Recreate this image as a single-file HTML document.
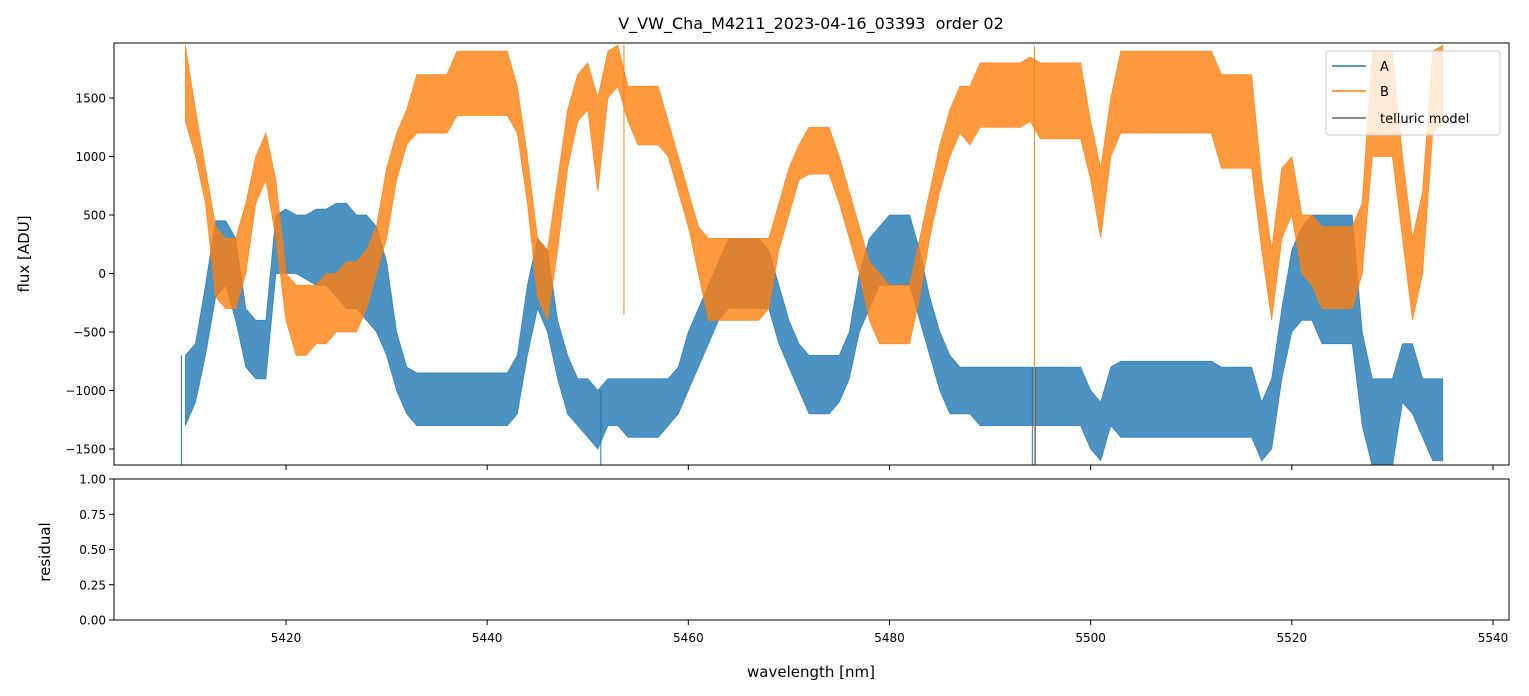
<!DOCTYPE html>
<html><head><meta charset="utf-8">
<style>
html,body{margin:0;padding:0;background:#fff;}
svg{display:block;font-family:"DejaVu Sans","Liberation Sans",sans-serif;}
</style></head>
<body>
<svg id="chart" width="1529" height="696" xmlns="http://www.w3.org/2000/svg">
<defs><clipPath id="mainclip"><rect x="114" y="43" width="1395" height="422"/></clipPath></defs>
<text x="811" y="29" font-size="16" text-anchor="middle" fill="#000" style="white-space:pre" xml:space="preserve">V_VW_Cha_M4211_2023-04-16_03393  order 02</text>
<g id="series" clip-path="url(#mainclip)"></g>
<rect x="114" y="43" width="1395" height="422" fill="none" stroke="#000" stroke-width="1"/>
<rect x="114" y="479" width="1395" height="141" fill="none" stroke="#000" stroke-width="1"/>
<g id="axes"></g>
<text transform="translate(29,254) rotate(-90)" font-size="15" text-anchor="middle">flux [ADU]</text>
<text transform="translate(50,552) rotate(-90)" font-size="15" text-anchor="middle">residual</text>
<text x="811" y="677" font-size="15" text-anchor="middle">wavelength [nm]</text>
<g>
<rect x="1326" y="51" width="174" height="84" rx="3" fill="#fff" fill-opacity="0.8" stroke="#ccc"/>
<line x1="1332" y1="66" x2="1366" y2="66" stroke="#1f77b4" stroke-width="1.5"/>
<text x="1380" y="71" font-size="13">A</text>
<line x1="1332" y1="91" x2="1366" y2="91" stroke="#ff7f0e" stroke-width="1.5"/>
<text x="1380" y="96" font-size="13">B</text>
<line x1="1332" y1="118" x2="1366" y2="118" stroke="#666" stroke-width="1.5"/>
<text x="1380" y="123" font-size="13">telluric model</text>
</g>
</svg>
<script>
const wlStart = 5410;
const aLo = [-1300,-1100,-700,-200,-100,-400,-800,-900,-900,0,
 0,0,-50,-100,-100,-200,-300,-300,-400,-500,
 -700,-1000,-1200,-1300,-1300,-1300,-1300,-1300,-1300,-1300,
 -1300,-1300,-1300,-1200,-700,-300,-500,-900,-1200,-1300,
 -1400,-1500,-1300,-1300,-1400,-1400,-1400,-1400,-1300,-1200,
 -1000,-800,-600,-400,-300,-300,-300,-300,-300,-600,
 -800,-1000,-1200,-1200,-1200,-1100,-900,-500,-300,-100,
 -100,-100,-100,-400,-700,-1000,-1200,-1200,-1200,-1300,
 -1300,-1300,-1300,-1300,-1300,-1300,-1300,-1300,-1300,-1300,
 -1500,-1600,-1300,-1400,-1400,-1400,-1400,-1400,-1400,-1400,
 -1400,-1400,-1400,-1400,-1400,-1400,-1400,-1600,-1500,-900,
 -500,-400,-400,-600,-600,-600,-600,-1300,-1650,-1650,
 -1650,-1100,-1200,-1400,-1600,-1600];
const aHi = [-700,-600,-100,450,450,300,-300,-400,-400,500,
 550,500,500,550,550,600,600,500,500,400,
 100,-500,-800,-850,-850,-850,-850,-850,-850,-850,
 -850,-850,-850,-700,-100,300,200,-400,-700,-900,
 -900,-1000,-900,-900,-900,-900,-900,-900,-900,-800,
 -500,-300,-100,100,300,300,300,300,200,-100,
 -400,-600,-700,-700,-700,-700,-500,0,300,400,
 500,500,500,200,-200,-500,-700,-800,-800,-800,
 -800,-800,-800,-800,-800,-800,-800,-800,-800,-800,
 -1000,-1100,-800,-750,-750,-750,-750,-750,-750,-750,
 -750,-750,-750,-800,-800,-800,-800,-1100,-900,-300,
 200,400,500,500,500,500,500,-500,-900,-900,
 -900,-600,-600,-900,-900,-900];
const bLo = [1300,1000,600,-200,-300,-300,0,600,800,300,
 -400,-700,-700,-600,-600,-500,-500,-500,-300,0,
 300,800,1100,1200,1200,1200,1200,1350,1350,1350,
 1350,1350,1350,1200,600,-200,-400,200,900,1300,
 1400,700,1500,1600,1300,1100,1100,1100,1000,700,
 400,0,-400,-400,-400,-400,-400,-400,-300,200,
 500,800,850,850,850,600,300,0,-400,-600,
 -600,-600,-600,-200,300,700,1000,1200,1100,1250,
 1250,1250,1250,1250,1300,1150,1150,1150,1150,1150,
 800,300,1000,1200,1200,1200,1200,1200,1200,1200,
 1200,1200,1200,900,900,900,900,200,-400,300,
 500,0,-100,-300,-300,-300,-300,0,1000,1000,
 1000,300,-400,0,1200,1300];
const bHi = [1950,1400,900,400,300,300,600,1000,1200,800,
 0,-100,-100,-100,0,0,100,100,200,400,
 900,1200,1400,1700,1700,1700,1700,1900,1900,1900,
 1900,1900,1900,1600,1000,300,200,800,1400,1700,
 1800,1500,1900,1950,1600,1600,1600,1600,1300,1000,
 700,400,300,300,300,300,300,300,300,600,
 900,1100,1250,1250,1250,1000,700,400,100,0,
 -100,-100,-100,300,700,1100,1400,1600,1600,1800,
 1800,1800,1800,1800,1850,1800,1800,1800,1800,1800,
 1300,900,1500,1900,1900,1900,1900,1900,1900,1900,
 1900,1900,1900,1700,1700,1700,1700,800,200,900,
 1000,500,500,400,400,400,400,600,1900,1900,
 1900,1000,300,700,1900,1950];
const spikeWl = [5409.6, 5451.3, 5494.2, 5494.5, 5453.6, 5494.4];
const spikeLo = [-1650, -1650, -1650, -1650, -350, -1650];
const spikeHi = [-700, -1000, -800, -800, 1950, 1950];
const spikeSeries = ["A","A","A","A","B","B"];
const xTicks = [5420,5440,5460,5480,5500,5520,5540];
const yTicks = [1500,1000,500,0,-500,-1000,-1500];
const rTicks = [0,0.25,0.5,0.75,1];
const rTickLabels = ["0.00","0.25","0.50","0.75","1.00"];

const NS = "http://www.w3.org/2000/svg";
const xS = w => 286 + (w - 5420) * (1207/120);
const yS = v => 273.5 - v * (351/3000);
const rS = v => 620 - v * 141;
const COL = {A:"#1f77b4", B:"#ff7f0e"};
const g = document.getElementById("series");
const ax = document.getElementById("axes");

function band(lo, hi, color, name) {
  let pts = [];
  for (let i = 0; i < lo.length; i++) pts.push(xS(wlStart + i).toFixed(1) + "," + yS(hi[i]).toFixed(1));
  for (let i = lo.length - 1; i >= 0; i--) pts.push(xS(wlStart + i).toFixed(1) + "," + yS(lo[i]).toFixed(1));
  const p = document.createElementNS(NS, "polygon");
  p.setAttribute("points", pts.join(" "));
  p.setAttribute("fill", color);
  p.setAttribute("fill-opacity", "0.8");
  p.setAttribute("stroke", color);
  p.setAttribute("stroke-width", "0.8");
  p.setAttribute("stroke-opacity", "0.8");
  
  
  g.appendChild(p);
}
band(aLo, aHi, COL.A, "series-a-band");
band(bLo, bHi, COL.B, "series-b-band");
for (let i = 0; i < spikeWl.length; i++) {
  const l = document.createElementNS(NS, "line");
  l.setAttribute("x1", xS(spikeWl[i])); l.setAttribute("x2", xS(spikeWl[i]));
  l.setAttribute("y1", yS(spikeLo[i])); l.setAttribute("y2", yS(spikeHi[i]));
  l.setAttribute("stroke", COL[spikeSeries[i]]); l.setAttribute("stroke-width", "1");
  
  
  g.appendChild(l);
}
function mk(tag, attrs, text) {
  const e = document.createElementNS(NS, tag);
  for (const k in attrs) e.setAttribute(k, attrs[k]);
  if (text !== undefined) e.textContent = text;
  ax.appendChild(e);
  return e;
}
xTicks.forEach(t => {
  const x = xS(t);
  const a = mk("line", {x1:x, x2:x, y1:465, y2:470, stroke:"#000"});
  
  
  const b = mk("line", {x1:x, x2:x, y1:620, y2:625, stroke:"#000"});
  
  
  const tx = mk("text", {x:x, y:642, "font-size":12, "text-anchor":"middle"}, String(t));
  
  
});
yTicks.forEach(t => {
  const y = yS(t);
  const a = mk("line", {x1:109, x2:114, y1:y, y2:y, stroke:"#000"});
  
  
  const tx = mk("text", {x:106, y:y+4.5, "font-size":12, "text-anchor":"end"}, String(t).replace("-", "\u2212"));
  
  
});
rTicks.forEach((t, i) => {
  const y = rS(t);
  const a = mk("line", {x1:109, x2:114, y1:y, y2:y, stroke:"#000"});
  
  
  const tx = mk("text", {x:106, y:y+4.5, "font-size":12, "text-anchor":"end"}, rTickLabels[i]);
  
  
});
</script>
</body></html>
